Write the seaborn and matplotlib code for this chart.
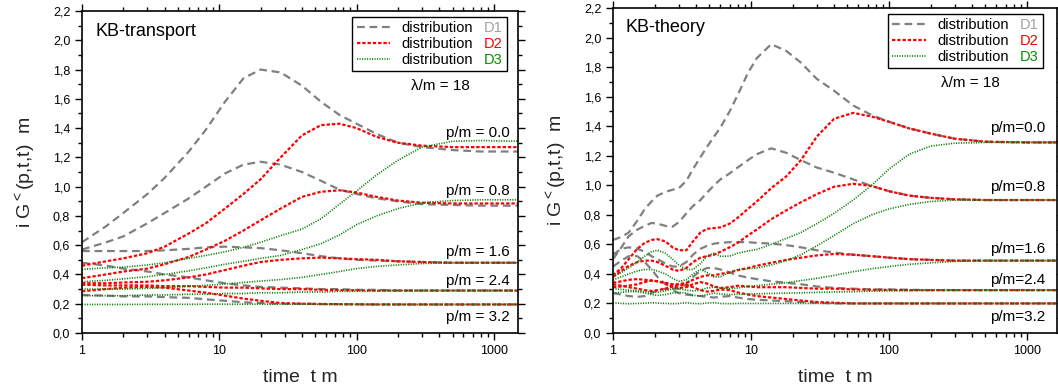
import matplotlib
matplotlib.use("Agg")
import matplotlib.pyplot as plt
import numpy as np
import pandas as pd
import seaborn as sns
from matplotlib.lines import Line2D
from matplotlib.offsetbox import TextArea
from matplotlib.ticker import FixedLocator, LogLocator, NullFormatter, MultipleLocator

# ---------------- data ----------------
DISTS = ["D1", "D2", "D3"]
MOMENTA = ["0.0", "0.8", "1.6", "2.4", "3.2"]
Y_TICKS = [0.0, 0.2, 0.4, 0.6, 0.8, 1.0, 1.2, 1.4, 1.6, 1.8, 2.0, 2.2]
Y_TICK_LABELS = ["0,0", "0,2", "0,4", "0,6", "0,8", "1,0", "1,2", "1,4", "1,6", "1,8", "2,0", "2,2"]
X_TICKS = [1, 10, 100, 1000]
X_TICK_LABELS = ["1", "10", "100", "1000"]

# KB-transport (left)
T_LEFT = [1, 1.5, 2, 3, 4, 6, 8, 11, 15, 20, 28, 40, 55, 75, 100, 140, 200, 300, 500, 800, 1500]
L_D1_P00 = [0.62, 0.73, 0.82, 0.95, 1.06, 1.24, 1.39, 1.58, 1.74, 1.80, 1.78, 1.69, 1.58, 1.49, 1.43, 1.36, 1.30, 1.27, 1.25, 1.24, 1.24]
L_D1_P08 = [0.57, 0.62, 0.66, 0.75, 0.82, 0.92, 1.00, 1.09, 1.15, 1.17, 1.15, 1.10, 1.04, 0.98, 0.95, 0.92, 0.90, 0.88, 0.875, 0.87, 0.87]
L_D1_P16 = [0.56, 0.56, 0.56, 0.56, 0.565, 0.575, 0.585, 0.59, 0.585, 0.58, 0.565, 0.545, 0.525, 0.51, 0.50, 0.495, 0.49, 0.485, 0.48, 0.48, 0.48]
L_D1_P24 = [0.48, 0.46, 0.44, 0.42, 0.40, 0.38, 0.36, 0.34, 0.325, 0.315, 0.31, 0.305, 0.30, 0.30, 0.295, 0.295, 0.29, 0.29, 0.29, 0.29, 0.29]
L_D1_P32 = [0.26, 0.255, 0.25, 0.25, 0.245, 0.24, 0.23, 0.22, 0.21, 0.205, 0.20, 0.20, 0.198, 0.197, 0.196, 0.195, 0.195, 0.195, 0.195, 0.195, 0.195]
L_D2_P00 = [0.46, 0.49, 0.51, 0.545, 0.59, 0.68, 0.75, 0.85, 0.95, 1.05, 1.20, 1.35, 1.42, 1.43, 1.40, 1.34, 1.30, 1.28, 1.27, 1.27, 1.27]
L_D2_P08 = [0.375, 0.40, 0.42, 0.44, 0.47, 0.52, 0.57, 0.63, 0.70, 0.77, 0.85, 0.93, 0.965, 0.975, 0.96, 0.93, 0.905, 0.89, 0.885, 0.885, 0.885]
L_D2_P16 = [0.34, 0.34, 0.345, 0.35, 0.36, 0.38, 0.40, 0.43, 0.46, 0.485, 0.50, 0.51, 0.515, 0.51, 0.505, 0.50, 0.49, 0.485, 0.48, 0.48, 0.48]
L_D2_P24 = [0.33, 0.325, 0.325, 0.325, 0.32, 0.32, 0.315, 0.31, 0.31, 0.305, 0.30, 0.30, 0.295, 0.293, 0.292, 0.29, 0.29, 0.29, 0.29, 0.29, 0.29]
L_D2_P32 = [0.285, 0.30, 0.31, 0.315, 0.31, 0.29, 0.275, 0.255, 0.235, 0.22, 0.205, 0.20, 0.198, 0.197, 0.196, 0.195, 0.195, 0.195, 0.195, 0.195, 0.195]
L_D3_P00 = [0.435, 0.445, 0.45, 0.465, 0.48, 0.51, 0.53, 0.555, 0.585, 0.62, 0.665, 0.71, 0.78, 0.88, 0.97, 1.08, 1.18, 1.27, 1.31, 1.315, 1.31]
L_D3_P08 = [0.35, 0.36, 0.37, 0.385, 0.40, 0.425, 0.445, 0.47, 0.49, 0.51, 0.53, 0.57, 0.61, 0.67, 0.74, 0.80, 0.85, 0.89, 0.905, 0.91, 0.91]
L_D3_P16 = [0.30, 0.30, 0.30, 0.305, 0.31, 0.32, 0.325, 0.335, 0.345, 0.355, 0.365, 0.38, 0.40, 0.42, 0.44, 0.455, 0.465, 0.475, 0.48, 0.48, 0.48]
L_D3_P24 = [0.255, 0.255, 0.255, 0.26, 0.26, 0.265, 0.265, 0.27, 0.27, 0.275, 0.275, 0.28, 0.28, 0.285, 0.285, 0.287, 0.29, 0.29, 0.29, 0.29, 0.29]
L_D3_P32 = [0.195, 0.195, 0.195, 0.196, 0.196, 0.196, 0.197, 0.197, 0.197, 0.197, 0.197, 0.197, 0.196, 0.196, 0.196, 0.195, 0.195, 0.195, 0.195, 0.195, 0.195]

# KB-theory (right)
T_RIGHT = [1, 1.15, 1.3, 1.5, 1.7, 1.9, 2.1, 2.4, 2.7, 3.0, 3.4, 3.8, 4.3, 4.8, 5.4, 6.0, 7.0, 8.0, 9.5, 11,
           14, 18, 23, 30, 40, 55, 75, 100, 140, 200, 300, 500, 1000, 1650]
R_D1_P00 = [0.63, 0.65, 0.68, 0.76, 0.84, 0.89, 0.93, 0.955, 0.97, 0.98, 1.03, 1.11, 1.19, 1.26, 1.33, 1.39, 1.50, 1.61, 1.76, 1.86,
            1.955, 1.91, 1.83, 1.72, 1.64, 1.54, 1.475, 1.43, 1.385, 1.35, 1.315, 1.295, 1.29, 1.29]
R_D1_P08 = [0.50, 0.58, 0.655, 0.70, 0.725, 0.745, 0.74, 0.725, 0.72, 0.75, 0.81, 0.86, 0.90, 0.95, 1.00, 1.04, 1.08, 1.12, 1.17, 1.21,
            1.25, 1.22, 1.17, 1.12, 1.085, 1.04, 0.995, 0.96, 0.93, 0.915, 0.905, 0.90, 0.90, 0.90]
R_D1_P16 = [0.53, 0.57, 0.58, 0.57, 0.55, 0.52, 0.50, 0.47, 0.45, 0.45, 0.48, 0.53, 0.57, 0.59, 0.605, 0.61, 0.615, 0.615, 0.615, 0.61,
            0.605, 0.595, 0.58, 0.56, 0.545, 0.53, 0.52, 0.51, 0.50, 0.495, 0.49, 0.49, 0.49, 0.49]
R_D1_P24 = [0.45, 0.49, 0.52, 0.52, 0.48, 0.43, 0.38, 0.33, 0.30, 0.30, 0.33, 0.38, 0.42, 0.44, 0.44, 0.43, 0.41, 0.39, 0.375, 0.365,
            0.35, 0.34, 0.33, 0.315, 0.305, 0.30, 0.295, 0.295, 0.293, 0.29, 0.29, 0.29, 0.29, 0.29]
R_D1_P32 = [0.27, 0.26, 0.25, 0.245, 0.25, 0.27, 0.29, 0.30, 0.29, 0.27, 0.26, 0.255, 0.25, 0.245, 0.24, 0.245, 0.25, 0.24, 0.23, 0.225,
            0.22, 0.215, 0.21, 0.205, 0.20, 0.20, 0.20, 0.20, 0.20, 0.20, 0.20, 0.20, 0.20, 0.20]
R_D2_P00 = [0.39, 0.44, 0.50, 0.57, 0.61, 0.63, 0.635, 0.62, 0.58, 0.56, 0.56, 0.62, 0.68, 0.705, 0.71, 0.715, 0.74, 0.78, 0.84, 0.89,
            0.98, 1.06, 1.17, 1.33, 1.45, 1.49, 1.465, 1.43, 1.385, 1.35, 1.315, 1.295, 1.29, 1.29]
R_D2_P08 = [0.38, 0.42, 0.455, 0.48, 0.49, 0.49, 0.48, 0.455, 0.43, 0.42, 0.44, 0.48, 0.51, 0.52, 0.53, 0.55, 0.58, 0.61, 0.66, 0.70,
            0.77, 0.83, 0.885, 0.94, 0.99, 1.01, 0.995, 0.96, 0.93, 0.915, 0.905, 0.90, 0.90, 0.90]
R_D2_P16 = [0.34, 0.35, 0.36, 0.365, 0.36, 0.355, 0.35, 0.34, 0.33, 0.33, 0.34, 0.36, 0.38, 0.39, 0.39, 0.40, 0.41, 0.425, 0.44, 0.455,
            0.475, 0.495, 0.51, 0.525, 0.535, 0.53, 0.52, 0.51, 0.50, 0.495, 0.49, 0.49, 0.49, 0.49]
R_D2_P24 = [0.31, 0.315, 0.32, 0.33, 0.345, 0.355, 0.35, 0.335, 0.315, 0.305, 0.31, 0.33, 0.345, 0.335, 0.315, 0.305, 0.31, 0.32, 0.315, 0.31,
            0.31, 0.31, 0.305, 0.30, 0.30, 0.295, 0.293, 0.292, 0.29, 0.29, 0.29, 0.29, 0.29, 0.29]
R_D2_P32 = [0.33, 0.32, 0.31, 0.30, 0.29, 0.285, 0.29, 0.30, 0.315, 0.325, 0.325, 0.31, 0.29, 0.28, 0.285, 0.295, 0.29, 0.275, 0.26, 0.25,
            0.24, 0.23, 0.22, 0.21, 0.205, 0.20, 0.20, 0.20, 0.20, 0.20, 0.20, 0.20, 0.20, 0.20]
R_D3_P00 = [0.38, 0.41, 0.44, 0.48, 0.52, 0.55, 0.56, 0.54, 0.50, 0.46, 0.43, 0.43, 0.47, 0.52, 0.54, 0.52, 0.52, 0.54, 0.555, 0.565,
            0.60, 0.64, 0.68, 0.74, 0.81, 0.90, 1.00, 1.11, 1.21, 1.265, 1.285, 1.29, 1.29, 1.29]
R_D3_P08 = [0.36, 0.38, 0.40, 0.42, 0.43, 0.43, 0.42, 0.40, 0.37, 0.35, 0.36, 0.40, 0.43, 0.41, 0.38, 0.38, 0.41, 0.43, 0.435, 0.44,
            0.46, 0.49, 0.53, 0.59, 0.66, 0.74, 0.80, 0.84, 0.87, 0.89, 0.90, 0.90, 0.90, 0.90]
R_D3_P16 = [0.30, 0.295, 0.29, 0.285, 0.28, 0.275, 0.275, 0.285, 0.30, 0.30, 0.29, 0.285, 0.29, 0.305, 0.31, 0.305, 0.30, 0.305, 0.315, 0.32,
            0.33, 0.34, 0.355, 0.37, 0.39, 0.415, 0.435, 0.45, 0.465, 0.475, 0.485, 0.49, 0.49, 0.49]
R_D3_P24 = [0.27, 0.275, 0.28, 0.28, 0.27, 0.26, 0.255, 0.26, 0.27, 0.275, 0.27, 0.255, 0.25, 0.26, 0.27, 0.265, 0.26, 0.262, 0.265, 0.265,
            0.268, 0.27, 0.272, 0.275, 0.278, 0.28, 0.283, 0.285, 0.287, 0.29, 0.29, 0.29, 0.29, 0.29]
R_D3_P32 = [0.205, 0.20, 0.198, 0.20, 0.202, 0.205, 0.203, 0.20, 0.198, 0.20, 0.205, 0.20, 0.198, 0.203, 0.205, 0.20, 0.198, 0.20, 0.20, 0.20,
            0.20, 0.20, 0.20, 0.20, 0.20, 0.20, 0.20, 0.20, 0.20, 0.20, 0.20, 0.20, 0.20, 0.20]

LEFT_CURVES = {
    "D1": [L_D1_P00, L_D1_P08, L_D1_P16, L_D1_P24, L_D1_P32],
    "D2": [L_D2_P00, L_D2_P08, L_D2_P16, L_D2_P24, L_D2_P32],
    "D3": [L_D3_P00, L_D3_P08, L_D3_P16, L_D3_P24, L_D3_P32],
}
RIGHT_CURVES = {
    "D1": [R_D1_P00, R_D1_P08, R_D1_P16, R_D1_P24, R_D1_P32],
    "D2": [R_D2_P00, R_D2_P08, R_D2_P16, R_D2_P24, R_D2_P32],
    "D3": [R_D3_P00, R_D3_P08, R_D3_P16, R_D3_P24, R_D3_P32],
}

# ---------------- style ----------------
sns.set_theme(style="ticks")
plt.rcParams["font.family"] = ["Liberation Sans", "DejaVu Sans"]
plt.rcParams["mathtext.fontset"] = "custom"
plt.rcParams["mathtext.rm"] = "Liberation Sans"
plt.rcParams["mathtext.it"] = "Liberation Sans:italic"
plt.rcParams["lines.scale_dashes"] = False
plt.rcParams["axes.edgecolor"] = "black"
plt.rcParams["text.color"] = "black"

PALETTE = {"D1": "#808080", "D2": "#ff0000", "D3": "#008000"}
TAG_COLORS = {"D1": "#a0a0a0", "D2": "#ff0000", "D3": "#009000"}
DASHES = {"D1": (5.6, 3.4), "D2": (2.4, 1.4), "D3": (0.8, 1.0)}
SIZES = {"D1": 1.6, "D2": 1.6, "D3": 1.2}


def make_frame(t, curves):
    rows = []
    for d in DISTS:
        for p, vals in zip(MOMENTA, curves[d]):
            for tt, v in zip(t, vals):
                rows.append((d, p, tt, v))
    return pd.DataFrame(rows, columns=["dist", "p", "t", "G"])


W, H = 1058, 391
fig = plt.figure(figsize=(W / 100, H / 100), dpi=100)
ax_l = fig.add_axes([82 / W, 1 - 333 / H, 436 / W, 322 / H])
ax_r = fig.add_axes([613 / W, 1 - 333 / H, 444 / W, 325 / H])

panels = [
    (ax_l, make_frame(T_LEFT, LEFT_CURVES), 1500, "KB-transport", "p/m = {}",
     0.982, [1.366, 0.97, 0.553, 0.355, 0.109], (0.975, 0.981), (0.823, 0.767), (0.03, 0.935)),
    (ax_r, make_frame(T_RIGHT, RIGHT_CURVES), 1650, "KB-theory", "p/m={}",
     0.973, [1.39, 0.99, 0.57, 0.36, 0.108], (0.968, 0.982), (0.806, 0.769), (0.029, 0.94)),
]

for ax, df, xmax, title, pfmt, px, py, legpos, lampos, titlepos in panels:
    ax.set_xscale("log")
    sns.lineplot(data=df, x="t", y="G", hue="dist", style="dist", size="dist",
                 units="p", estimator=None, sort=False,
                 hue_order=DISTS, style_order=DISTS, size_order=DISTS,
                 palette=PALETTE, dashes=DASHES, sizes=SIZES, legend=False, ax=ax)
    ax.set_xlim(1, xmax)
    ax.set_ylim(0, 2.2)
    ax.yaxis.set_major_locator(FixedLocator(Y_TICKS))
    ax.set_yticklabels(Y_TICK_LABELS)
    ax.yaxis.set_minor_locator(MultipleLocator(0.1))
    ax.xaxis.set_major_locator(FixedLocator(X_TICKS))
    ax.set_xticklabels(X_TICK_LABELS)
    ax.xaxis.set_minor_locator(LogLocator(base=10, subs=np.arange(2, 10), numticks=20))
    ax.xaxis.set_minor_formatter(NullFormatter())
    ax.tick_params(which="both", direction="out", top=True, right=True, colors="black",
                   labelsize=9, width=1.0)
    ax.tick_params(which="major", length=5)
    ax.tick_params(which="minor", length=3)
    for s in ax.spines.values():
        s.set_visible(True)
        s.set_linewidth(1.2)
        s.set_color("black")
    ax.set_xlabel("time  t m", fontsize=14)
    ax.set_ylabel("i G$^{<}$(p,t,t)  m", fontsize=14)
    ax.xaxis.set_label_coords(0.5, -0.112)
    ax.yaxis.set_label_coords(-0.1, 0.5)

    ax.text(titlepos[0], titlepos[1], title, transform=ax.transAxes, fontsize=13,
            ha="left", va="center")
    ax.text(lampos[0], lampos[1], "\u03bb/m = 18", transform=ax.transAxes, fontsize=11,
            ha="center", va="center")
    trans = ax.get_yaxis_transform()
    for pv, yv in zip(MOMENTA, py):
        ax.text(px, yv, pfmt.format(pv), transform=trans, fontsize=11, ha="right", va="center")

    handles = [Line2D([], [], color=PALETTE[d], lw=SIZES[d], dashes=DASHES[d]) for d in DISTS]
    leg = ax.legend(handles, ["distribution"] * 3, loc="upper right",
                    bbox_to_anchor=legpos, borderaxespad=0, fontsize=10.5,
                    frameon=True, fancybox=False, framealpha=1, edgecolor="black",
                    handlelength=2.3, handletextpad=0.55, labelspacing=0.12,
                    borderpad=0.3)
    leg.get_frame().set_linewidth(1.0)
    # append the coloured distribution tag to each legend row
    rows = []
    for col in leg._legend_handle_box.get_children():
        rows.extend(col.get_children())
    for row, d in zip(rows, DISTS):
        ta = TextArea(d, textprops=dict(color=TAG_COLORS[d], fontsize=10.5,
                                        fontfamily=["Liberation Sans", "DejaVu Sans"]))
        ta.set_figure(fig)
        row.get_children().append(ta)
        row.sep = 8

fig.savefig("out.png", dpi=100)
